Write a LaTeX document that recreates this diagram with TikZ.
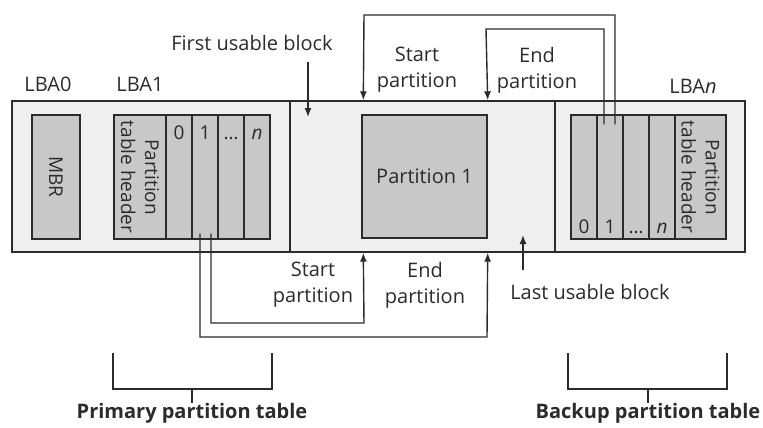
\documentclass[tikz,border=0pt]{standalone}
\usepackage{fontspec}
\setmainfont{Open Sans}
\usetikzlibrary{positioning,arrows.meta}
\definecolor{diskgray}{HTML}{EFEFEF}
\definecolor{slotgray}{HTML}{C8C8C8}
\definecolor{inkgray}{HTML}{2B2B2B}

\begin{document}
\begin{tikzpicture}[x=1pt, y=-1pt,
  region/.style={draw=inkgray, fill=diskgray, line width=1.4pt, minimum height=151pt, inner sep=0pt},
  slot/.style={draw=inkgray, fill=slotgray, line width=1.4pt, minimum height=124pt, inner sep=0pt},
  lbl/.style={align=center, text=inkgray, font=\fontsize{20}{26}\selectfont, inner sep=0pt},
  num/.style={text=inkgray, font=\fontsize{19}{22}\selectfont, inner sep=0pt},
  side/.style={rotate=-90, align=center, text=inkgray, font=\fontsize{19}{24}\selectfont, inner sep=0pt},
  title/.style={text=inkgray, font=\fontsize{20}{24}\selectfont\bfseries, inner sep=0pt},
  link/.style={draw=inkgray, line width=1.4pt},
  arrow/.style={link, -{Latex[length=9pt,width=7pt]}}
]
  \useasboundingbox (0,0) rectangle (763,428);

  % disk regions
  \node[region, minimum width=278pt] (lbazero) at (151,176.5) {};
  \node[region, minimum width=265pt] (area)    at (422.5,176.5) {};
  \node[region, minimum width=190pt] (lban)    at (650,176.5) {};

  % MBR and primary table
  \node[slot, minimum width=48pt] (mbr) at (56,177) {};
  \node[side] (mbrtxt) at (mbr) {MBR};
  \node[slot, minimum width=52pt] (phdr) at (140,177) {};
  \node[side] (phdrtxt) at (phdr) {Partition\\table header};
  \foreach \i/\t in {0/0,1/1,2/\dots,3/\textit{n}} {
    \node[slot, minimum width=26pt] (pe\i) at (179+26*\i,177) {};
    \node[num, anchor=base] (pn\i) at ([yshift=-25pt]pe\i.north) {\t};
  }

  % partition
  \node[slot, minimum width=125pt, minimum height=123pt, font=\fontsize{20}{24}\selectfont, text=inkgray] (part) at (424.5,176.5) {Partition 1};

  % backup table
  \foreach \i/\t in {0/0,1/1,2/\dots,3/\textit{n}} {
    \node[slot, minimum width=26pt] (be\i) at (584+26*\i,177) {};
    \node[num, anchor=base] (bn\i) at ([yshift=6pt]be\i.south) {\t};
  }
  \node[slot, minimum width=51pt] (bhdr) at (700.5,177) {};
  \node[side] (bhdrtxt) at (bhdr) {Partition\\table header};

  % LBA labels
  \node[lbl] (lbl0) at (48,84) {LBA0};
  \node[lbl] (lbl1) at (140,84) {LBA1};
  \node[lbl] (lbln) at (693,86) {LBA\textit{n}};

  % usable blocks
  \node[lbl] (first) at (252,43) {First usable block};
  \coordinate (firstfrom) at (308,62);
  \coordinate (firstto) at (308,117);
  \draw[arrow] (firstfrom) -- (firstto);
  \node[lbl] (last) at (590,292) {Last usable block};
  \coordinate (lastfrom) at (523,270);
  \coordinate (lastto) at (523,235);
  \draw[arrow] (lastfrom) -- (lastto);

  % links from the backup table
  \node[lbl] (bstart) at (417,70) {Start\\partition};
  \node[lbl] (bend)   at (537,70) {End\\partition};
  \coordinate (bsfrom) at ([xshift=5pt,yshift=-10pt]be1.north);
  \coordinate (befrom) at ([xshift=-6pt,yshift=-10pt]be1.north);
  \coordinate (startin) at ([xshift=2pt]part.west |- area.north);
  \coordinate (endin) at (part.east |- area.north);
  \draw[arrow] (bsfrom) |- (364,15) -- (startin);
  \draw[arrow] (befrom) |- (486,29) -- (endin);

  % links from the primary table
  \node[lbl] (pstart) at (313,285) {Start\\partition};
  \node[lbl] (pend)   at (425,285) {End\\partition};
  \coordinate (psfrom) at ([xshift=6pt,yshift=6pt]pe1.south);
  \coordinate (pefrom) at ([xshift=-5pt,yshift=6pt]pe1.south);
  \coordinate (startout) at ([xshift=2pt]part.west |- area.south);
  \coordinate (endout) at (part.east |- area.south);
  \draw[arrow] (psfrom) |- (364,323) -- (startout);
  \draw[arrow] (pefrom) |- (487,337) -- (endout);

  % brackets
  \node[title] (primtitle) at (192,413) {Primary partition table};
  \node[title] (backtitle) at (648,413) {Backup partition table};
  \coordinate (primmid) at (192,389);
  \coordinate (backmid) at (648,389);
  \draw[link] (113,353) |- (272,389) -- (272,353);
  \draw[link] (primmid) -- (primtitle.north);
  \draw[link] (568,353) |- (727,389) -- (727,353);
  \draw[link] (backmid) -- (backtitle.north);
\end{tikzpicture}
\end{document}
